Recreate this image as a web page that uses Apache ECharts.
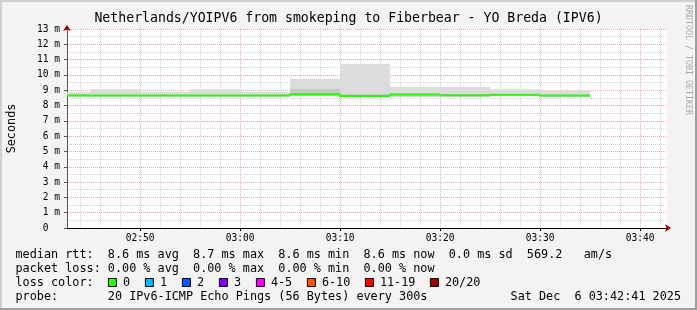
<!DOCTYPE html>
<html><head><meta charset="utf-8">
<script src="https://cdn.jsdelivr.net/npm/echarts@6/dist/echarts.min.js"></script>
<style>html,body{margin:0;padding:0;background:#f3f3f3}#c{width:697px;height:310px}</style>
</head><body><div id="c"></div>
<script>
// ---- data ----
const stepEnds   = ['02:45','02:50','02:55','03:00','03:05','03:10','03:15','03:20','03:25','03:30','03:35'];
const smokeMax   = [8.87, 9.06, 8.88, 9.06, 8.90, 9.75, 10.72, 9.22, 9.22, 9.06, 8.96];
const smokeInner = [8.70, 8.72, 8.70, 8.72, 8.70, 9.12, 8.76, 8.80, 8.74, 8.76, 8.72];
const medianRtt  = [8.66, 8.66, 8.66, 8.66, 8.66, 8.74, 8.62, 8.72, 8.67, 8.70, 8.65];
const smokeMin   = [8.58, 8.58, 8.58, 8.58, 8.58, 8.62, 8.55, 8.58, 8.58, 8.60, 8.55];
const stepMinutes = 5;
const xStart = '02:42:41', xEnd = '03:42:41';
const xTickLabels = ['02:50','03:00','03:10','03:20','03:30','03:40'];
const yTickLabels = ['0','1 m','2 m','3 m','4 m','5 m','6 m','7 m','8 m','9 m','10 m','11 m','12 m','13 m'];
const titleText = 'Netherlands/YOIPV6 from smokeping to Fiberbear - YO Breda (IPV6)';
const rttStats  = ['8.6 ms avg','8.7 ms max','8.6 ms min','8.6 ms now','0.0 ms sd','569.2   am/s'];
const lossStats = ['0.00 % avg','0.00 % max','0.00 % min','0.00 % now'];
const lossLabels = ['0','1','2','3','4-5','6-10','11-19','20/20'];
const lossColors = ['#26ff00','#00b8ff','#0059ff','#7e00ff','#ff00ff','#ff5500','#ff0000','#a00000'];
const probeText = '20 IPv6-ICMP Echo Pings (56 Bytes) every 300s';
const dateText  = 'Sat Dec  6 03:42:41 2025';

// ---- helpers ----
const toMin = s => { const p = s.split(':').map(Number); return p[0]*60 + p[1] + (p[2]||0)/60; };
const xMin = toMin(xStart), xMax = toMin(xEnd);
const majorX = xTickLabels.map(toMin);
const labelOf = {}; xTickLabels.forEach(l => { labelOf[toMin(l)] = l; });
const minorX = [];
for (let v = Math.ceil(xMin/2)*2; v < xMax; v += 2) if (v % 10 !== 0) minorX.push(v);

const FONT = 'DejaVu Sans Mono';
const majorColor = '#e8a8a8', minorColor = '#d0d0d0';
const dash = [1, 1];

const bandData = stepEnds.map((t, i) => [toMin(t) - stepMinutes, toMin(t), smokeMin[i], smokeInner[i], smokeMax[i], medianRtt[i]]);

function rectItem(params, api, loDim, hiDim, color) {
  const s = api.value(0), e = api.value(1);
  const p1 = api.coord([s, api.value(hiDim)]), p2 = api.coord([e, api.value(loDim)]);
  const cs = params.coordSys;
  const r = echarts.graphic.clipRectByRect(
    {x: p1[0], y: p1[1], width: p2[0]-p1[0], height: p2[1]-p1[1]},
    {x: cs.x, y: cs.y, width: cs.width, height: cs.height});
  return r ? {type: 'rect', shape: r, style: {fill: color}} : null;
}

// ---- legend graphics ----
const LF = '11.8px "' + FONT + '"';
const lx = 15.5;
const graphics = [
  {type:'rect', shape:{x:0,y:0,width:697,height:2}, style:{fill:'#cfcfcf'}},
  {type:'rect', shape:{x:0,y:0,width:2,height:310}, style:{fill:'#cfcfcf'}},
  {type:'rect', shape:{x:695,y:0,width:2,height:310}, style:{fill:'#9e9e9e'}},
  {type:'rect', shape:{x:0,y:308,width:697,height:2}, style:{fill:'#9e9e9e'}},
  {type:'text', x:688, y:5, rotation:-Math.PI/2, style:{text:'RRDTOOL / TOBI OETIKER', font:'8.3px "'+FONT+'"', fill:'#aaaaaa', align:'left', verticalAlign:'middle'}},
  {type:'text', x:lx, y:254.5, style:{text:'median rtt:  ' + rttStats.join('  '), font:LF, fill:'#000', verticalAlign:'middle'}},
  {type:'text', x:lx, y:268.5, style:{text:'packet loss: ' + lossStats.join('  '), font:LF, fill:'#000', verticalAlign:'middle'}},
  {type:'text', x:lx, y:282.5, style:{text:'loss color:', font:LF, fill:'#000', verticalAlign:'middle'}},
  {type:'text', x:lx, y:296.5, style:{text:'probe:       ' + probeText, font:LF, fill:'#000', verticalAlign:'middle'}},
  {type:'text', x:681, y:296.5, style:{text:dateText, font:LF, fill:'#000', align:'right', verticalAlign:'middle'}}
];
let bx = 108.4;
lossLabels.forEach((l, i) => {
  graphics.push({type:'rect', shape:{x:bx, y:278.5, width:8, height:8}, style:{fill:lossColors[i], stroke:'#000', lineWidth:1}});
  graphics.push({type:'text', x:bx+14.5, y:282.5, style:{text:l, font:LF, fill:'#000', verticalAlign:'middle'}});
  bx += 30 + 7 * l.length;
});

const chart = echarts.init(document.getElementById('c'), null, {renderer:'canvas'});
chart.setOption({
  backgroundColor: '#f3f3f3',
  animation: false,
  title: {text: titleText, left: 'center', top: 12, padding: 0,
          textStyle: {fontFamily: FONT, fontSize: 13.2, fontWeight: 'normal', color: '#000'}},
  grid: {left: 67, right: 30, top: 29, bottom: 82, show: true, backgroundColor: '#ffffff', borderWidth: 0,
         containLabel: false, outerBoundsMode: 'none'},
  xAxis: [
    {type:'value', min:xMin, max:xMax, position:'bottom',
     axisLine:{show:true, onZero:false, lineStyle:{color:'#000', width:1}},
     axisTick:{show:true, customValues:majorX, length:3, lineStyle:{color:'#000'}},
     axisLabel:{customValues:majorX, formatter: v => labelOf[v] || '', fontFamily:FONT, fontSize:9.6, color:'#000', margin:5},
     splitLine:{show:true, lineStyle:{color:majorColor, type:dash, width:1}}},
    {type:'value', min:xMin, max:xMax, position:'bottom',
     axisLine:{show:false, onZero:false}, axisTick:{show:false, customValues:minorX},
     axisLabel:{show:false, customValues:minorX},
     splitLine:{show:true, lineStyle:{color:minorColor, type:dash, width:1}}},
    {type:'value', min:xMin, max:xMax, position:'bottom',
     axisLine:{show:true, onZero:false, symbol:['none','arrow'], symbolSize:[6,6], symbolOffset:[0,4], lineStyle:{color:'#a00000', opacity:0}},
     axisTick:{show:false}, axisLabel:{show:false}, splitLine:{show:false}}
  ],
  yAxis: [
    {type:'value', min:0, max:13, interval:1, position:'left',
     axisLine:{show:true, onZero:false, lineStyle:{color:'#555', width:1}},
     axisTick:{show:true, length:3, lineStyle:{color:'#555'}},
     axisLabel:{formatter: v => { const s = yTickLabels[Math.round(v)] || ''; return s.length < 3 ? (s + '   ').slice(0,3) : s; },
                fontFamily:FONT, fontSize:9.6, color:'#000', margin:7},
     splitLine:{show:true, lineStyle:{color:majorColor, type:dash, width:1}},
     minorTick:{show:false, splitNumber:2},
     minorSplitLine:{show:true, lineStyle:{color:minorColor, type:dash, width:1}},
     name:'Seconds', nameLocation:'middle', nameGap:49,
     nameTextStyle:{fontFamily:FONT, fontSize:11.8, color:'#000'}},
    {type:'value', min:0, max:13, interval:1, position:'left',
     axisLine:{show:true, onZero:false, symbol:['none','arrow'], symbolSize:[6,6], symbolOffset:[0,4], lineStyle:{color:'#a00000', opacity:0}},
     axisTick:{show:false}, axisLabel:{show:false}, splitLine:{show:false}}
  ],
  series: [
    {type:'custom', xAxisIndex:0, yAxisIndex:0, data:bandData, encode:{x:[0,1], y:[2,3,4,5]},
     renderItem:(p, api) => rectItem(p, api, 3, 4, '#dcdcdc')},
    {type:'custom', xAxisIndex:0, yAxisIndex:0, data:bandData, encode:{x:[0,1], y:[2,3,4,5]},
     renderItem:(p, api) => rectItem(p, api, 2, 3, '#c6c6c6')},
    {type:'custom', xAxisIndex:0, yAxisIndex:0, data:bandData, encode:{x:[0,1], y:[2,3,4,5]},
     renderItem:(params, api) => {
       const i = params.dataIndex;
       const s = api.value(0), e = api.value(1), m = api.value(5);
       const prev = i > 0 ? bandData[i-1][5] : m;
       const cs = params.coordSys;
       const cx = x => Math.max(cs.x, Math.min(cs.x + cs.width, x));
       const a = api.coord([s, prev]), b = api.coord([s, m]), c = api.coord([e, m]);
       return {type:'polyline', shape:{points:[[cx(a[0]),a[1]],[cx(b[0]),b[1]],[cx(c[0]),c[1]]]},
               style:{stroke:'#26ff00', lineWidth:2, fill:null}};
     }}
  ],
  graphic: graphics
});
</script>
</body></html>
